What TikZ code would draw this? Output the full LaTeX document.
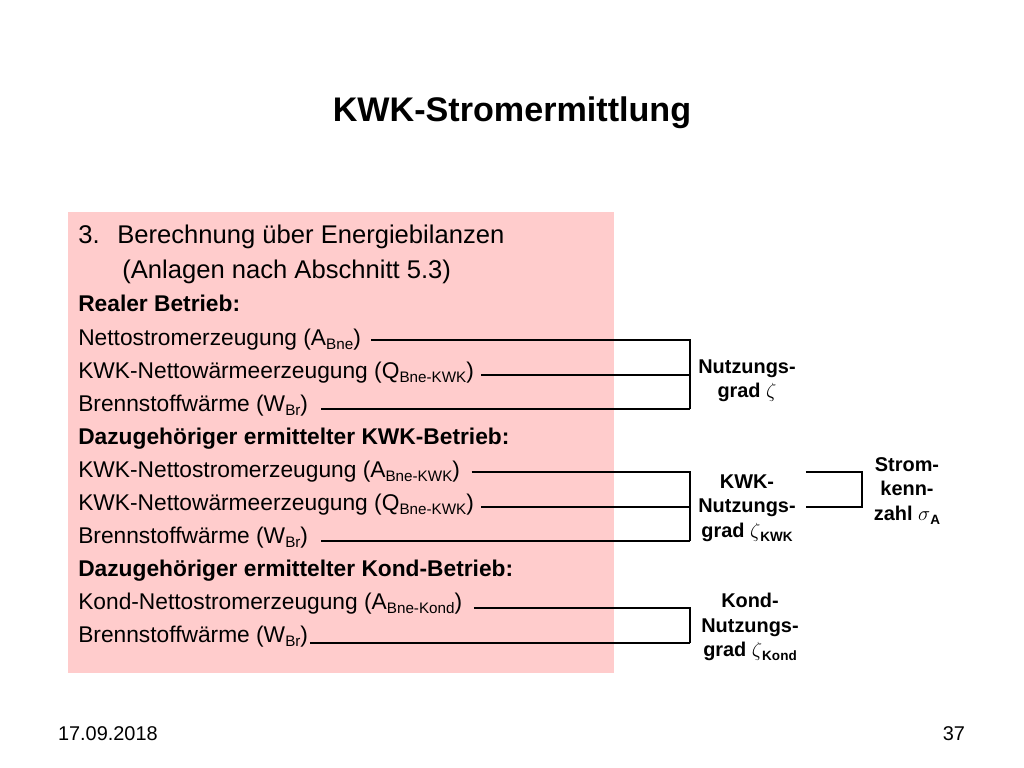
\documentclass[tikz,border=0pt]{standalone}
\usepackage{fontspec}
\setmainfont{Liberation Sans}
\usetikzlibrary{positioning}
\definecolor{boxpink}{HTML}{FFCCCC}
\newcommand{\bsub}[1]{\raisebox{-3.2pt}{\fontsize{10.7}{12}\selectfont #1}}
\newcommand{\lsub}[1]{\raisebox{-2.8pt}{\fontsize{9.5}{11}\selectfont #1}}

\begin{document}
\begin{tikzpicture}[x=0.703125pt,y=-0.703125pt,
  txt/.style={anchor=base west,inner sep=0pt,font=\fontsize{16}{19}\selectfont},
  headtxt/.style={txt,font=\fontsize{16}{19}\selectfont\bfseries},
  lbl/.style={align=center,inner sep=0pt,font=\fontsize{14}{17.2}\selectfont\bfseries},
  link/.style={line width=1pt}]
\useasboundingbox (0,0) rectangle (1024,768);
\node[font=\fontsize{24}{29}\selectfont\bfseries] (title) at (512,113) {KWK-Stromermittlung};
\fill[boxpink] (68,212) rectangle (614,673);
% list in the box
\node[txt,font=\fontsize{18}{22}\selectfont] (num) at (78,244) {3.};
\node[txt,font=\fontsize{18}{22}\selectfont] (t0) at (117,244) {Berechnung über Energiebilanzen};
\node[txt,font=\fontsize{18}{22}\selectfont] (t1) at (122,279) {(Anlagen nach Abschnitt 5.3)};
\node[headtxt] (t2) at (78,312) {Realer Betrieb:};
\node[txt] (t3) at (78,345) {Nettostromerzeugung (A\bsub{Bne})};
\node[txt] (t4) at (78,378) {KWK-Nettowärmeerzeugung (Q\bsub{Bne-KWK})};
\node[txt] (t5) at (78,411) {Brennstoffwärme (W\bsub{Br})};
\node[headtxt] (t6) at (78,444) {Dazugehöriger ermittelter KWK-Betrieb:};
\node[txt] (t7) at (78,477) {KWK-Nettostromerzeugung (A\bsub{Bne-KWK})};
\node[txt] (t8) at (78,510) {KWK-Nettowärmeerzeugung (Q\bsub{Bne-KWK})};
\node[txt] (t9) at (78,543) {Brennstoffwärme (W\bsub{Br})};
\node[headtxt] (t10) at (78,576) {Dazugehöriger ermittelter Kond-Betrieb:};
\node[txt] (t11) at (78,609) {Kond-Nettostromerzeugung (A\bsub{Bne-Kond})};
\node[txt] (t12) at (78,642) {Brennstoffwärme (W\bsub{Br})};
% results
\node[lbl] (nutz) at (747,381) {Nutzungs-\\grad $\zeta$};
\node[lbl] (nkwk) at (747,508) {KWK-\\Nutzungs-\\grad $\zeta$\lsub{KWK}};
\node[lbl] (skz) at (907,491) {Strom-\\kenn-\\zahl $\sigma$\lsub{A}};
\node[lbl] (nkond) at (750,627) {Kond-\\Nutzungs-\\grad $\zeta$\lsub{Kond}};
% bracket corners
\coordinate (a1) at (690,340);
\coordinate (a2) at (690,375);
\coordinate (a3) at (690,409);
\coordinate (b1) at (690,472);
\coordinate (b2) at (690,507);
\coordinate (b3) at (690,541);
\coordinate (c1) at (690,608);
\coordinate (c2) at (690,643);
\coordinate (s1) at (862,472);
\coordinate (s2) at (862,507);
\draw[link] ([xshift=7]t3.east |- a1) -- (a1) -- (a3);
\draw[link] ([xshift=5]t4.east |- a2) -- (a2);
\draw[link] ([xshift=9]t5.east |- a3) -- (a3);
\draw[link] ([xshift=8]t7.east |- b1) -- (b1) -- (b3);
\draw[link] ([xshift=5]t8.east |- b2) -- (b2);
\draw[link] ([xshift=9]t9.east |- b3) -- (b3);
\draw[link] ([xshift=8]t11.east |- c1) -- (c1) -- (c2);
\draw[link] ([xshift=1]t12.east |- c2) -- (c2);
\draw[link] ([xshift=7]nkwk.east |- s1) -- (s1) -- (s2) -- ([xshift=7]nkwk.east |- s2);
% footer
\node[anchor=base west,font=\fontsize{14}{17}\selectfont] (date) at (53,740) {17.09.2018};
\node[anchor=base east,font=\fontsize{14}{17}\selectfont] (page) at (970,740) {37};
\end{tikzpicture}
\end{document}
